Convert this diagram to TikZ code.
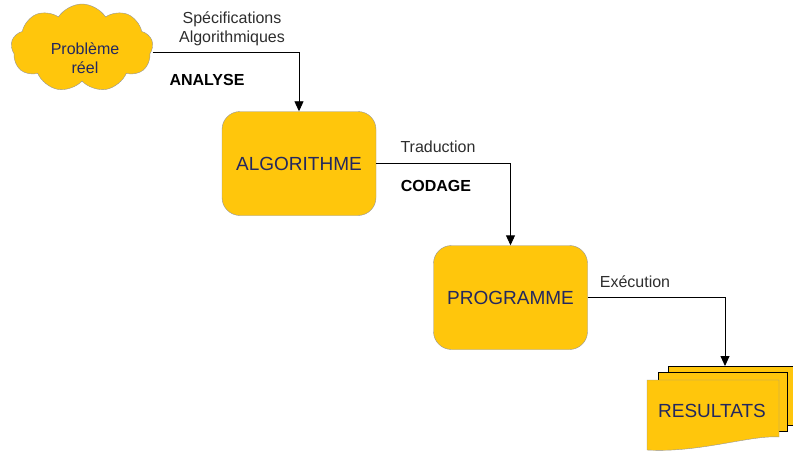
\documentclass[tikz,border=0pt]{standalone}
\usepackage{fontspec}
\setmainfont{Liberation Sans}
\usetikzlibrary{shapes.symbols,arrows.meta}
\definecolor{jaune}{RGB}{255,198,12}
\definecolor{bord}{RGB}{150,150,150}
\definecolor{encre}{RGB}{35,40,95}
\definecolor{gris}{RGB}{45,45,45}

\begin{document}
\begin{tikzpicture}[x=1pt,y=-1pt,
  boite/.style={draw=bord, fill=jaune, rounded corners=18pt, minimum width=154pt, minimum height=104pt, font=\fontsize{19}{22}\selectfont, text=encre},
  lien/.style={-{Triangle[length=10pt,width=9pt]}, line width=0.9pt, black},
  etiq/.style={font=\fontsize{16}{19}\selectfont, text=gris, align=center},
  phase/.style={font=\fontsize{16}{19}\selectfont\bfseries, text=black}]
\useasboundingbox (0,0) rectangle (793,452);

% nuage de depart
\node[cloud, cloud puffs=9, cloud puff arc=115, cloud ignores aspect, draw=bord, fill=jaune, minimum width=142pt, minimum height=88pt, inner sep=0pt] (nuage) at (82,48) {};
\node[etiq, text=encre] (probleme) at (85,58) {Problème\\réel};

% les deux boites
\node[boite] (algo) at (299,163.5) {ALGORITHME};
\node[boite] (prog) at (510.5,297.5) {PROGRAMME};

% pile de feuilles
\draw[black, fill=jaune] (668,366) -- (797,366) -- (797,425) -- (668,425) -- cycle;
\draw[black, fill=jaune] (658,372) -- (787,372) -- (787,431) -- (658,431) -- cycle;
\draw[bord, fill=jaune] (647,380) -- (779,380) -- (779,437)
  .. controls (750,435) and (700,453) .. (647,450) -- cycle;
\node[font=\fontsize{19}{22}\selectfont, text=encre] (res) at (712,411) {RESULTATS};
\coordinate (entree) at (725,366);

% fleches
\draw[lien] ([yshift=-4pt]nuage.east) -| (algo.north);
\draw[lien] (algo.east) -| (prog.north);
\draw[lien] (prog.east) -| (entree);

% textes des fleches
\node[etiq] (specif) at (232,29) {Spécifications\\Algorithmiques};
\node[phase] (analyse) at (207,80) {ANALYSE};
\node[etiq] (trad) at (438,147) {Traduction};
\node[phase] (codage) at (436,186) {CODAGE};
\node[etiq] (exec) at (635,282) {Exécution};

\end{tikzpicture}
\end{document}
